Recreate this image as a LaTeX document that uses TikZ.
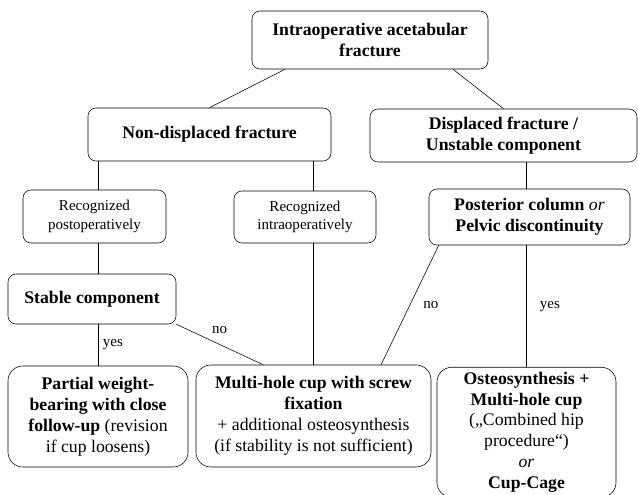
\documentclass[tikz,border=0pt]{standalone}
\usepackage{fontspec}
\setmainfont{Liberation Serif}
\usepackage{tikz}

\begin{document}
\begin{tikzpicture}[
    stage/.style={draw, rounded corners=0.2cm, align=center, inner sep=2pt,
        font=\fontsize{12.6}{14.9}\selectfont},
    small/.style={stage, font=\fontsize{10.7}{13.2}\selectfont},
    result/.style={stage, rounded corners=0.37cm},
    answer/.style={font=\fontsize{10.7}{13}\selectfont}
]
    \useasboundingbox (0,0) rectangle (15.95,12.375);
    % first two levels
    \node[stage, minimum width=5.9cm, minimum height=1.45cm] (top) at (9.25,11.375) {\textbf{Intraoperative acetabular}\\\textbf{fracture}};
    \node[stage, minimum width=6.075cm, minimum height=1.325cm] (nondisp) at (5.2375,9.0125) {\textbf{Non-displaced fracture}};
    \node[stage, minimum width=6.675cm, minimum height=1.325cm] (disp) at (12.5875,8.9875) {\textbf{Displaced fracture /}\\\textbf{Unstable component}};
    % when and how
    \node[small, minimum width=3.575cm, minimum height=1.325cm] (postop) at (2.3625,6.9625) {Recognized\\postoperatively};
    \node[small, minimum width=3.55cm, minimum height=1.3cm] (intraop) at (7.625,6.95) {Recognized\\intraoperatively};
    \node[stage, minimum width=5.025cm, minimum height=1.4cm] (posterior) at (13.2375,6.95) {\textbf{Posterior column} \textit{or}\\\textbf{Pelvic discontinuity}};
    \node[stage, minimum width=4.2cm, minimum height=1.25cm] (stable) at (2.3,4.9) {\textbf{Stable component}};
    % treatment
    \node[result, minimum width=4.5cm, minimum height=2.525cm] (partial) at (2.45,1.9625) {\textbf{Partial weight-}\\\textbf{bearing with close}\\\textbf{follow-up} (revision\\if cup loosens)};
    \node[result, minimum width=5.875cm, minimum height=2.55cm] (multi) at (7.8375,1.975) {\textbf{Multi-hole cup with screw}\\\textbf{fixation}\\+ additional osteosynthesis\\(if stability is not sufficient)};
    \node[result, anchor=north, minimum width=4.475cm, minimum height=3.25cm] (osteo) at (13.1625,3.2) {\textbf{Osteosynthesis +}\\\textbf{Multi-hole cup}\\(„Combined hip\\procedure“)\\\textit{or}\\\textbf{Cup-Cage}};

    \draw ([xshift=-2.125cm]top.south) -- (nondisp.north);
    \draw ([xshift=2.075cm]top.south) -- (disp.north);
    \draw (nondisp.south -| partial.north) -- (postop.north -| partial.north);
    \draw (postop.south -| partial.north) -- (stable.north -| partial.north);
    \draw (stable.south -| partial.north) -- node[answer, right] {yes} (partial.north);
    \draw (nondisp.south -| multi.north) -- (intraop.north -| multi.north);
    \draw (intraop.south -| multi.north) -- (multi.north);
    \draw (stable.south east) -- node[answer, pos=0.5, above=4pt] {no} ([xshift=-1.26cm]multi.north);
    \draw (disp.south -| osteo.north) -- (posterior.north -| osteo.north);
    \draw ([xshift=0.25cm]posterior.south west) -- node[answer, right=6pt] {no} ([xshift=1.69cm]multi.north);
    \draw (posterior.south -| osteo.north) -- node[answer, right=6pt] {yes} (osteo.north);
\end{tikzpicture}
\end{document}
